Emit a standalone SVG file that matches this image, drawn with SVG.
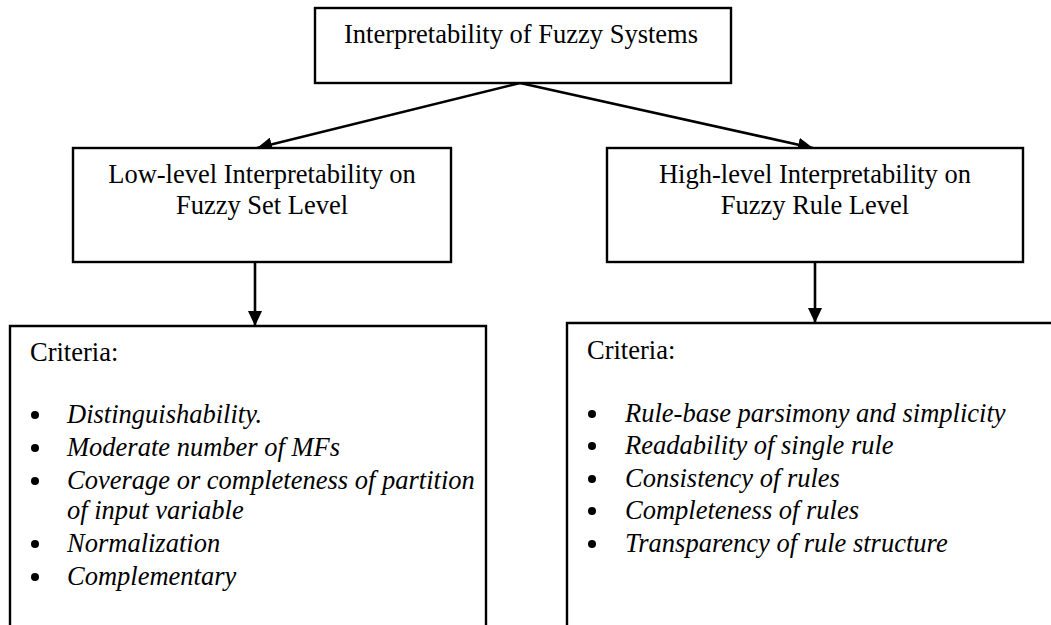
<svg xmlns="http://www.w3.org/2000/svg" width="1051" height="625" viewBox="0 0 1051 625">
  <style>
    .box { fill: #ffffff; stroke: #000000; stroke-width: 2.4; }
    .edge { fill: none; stroke: #000000; stroke-width: 2.6; }
    .t { font-family: "Liberation Serif", "Times New Roman", serif; font-size: 26.5px; fill: #000000; }
    .c { text-anchor: middle; }
    .i { font-style: italic; }
    .dot { fill: #000000; }
  </style>
  <defs>
    <marker id="arrow" viewBox="0 0 15 14" refX="15" refY="7" markerWidth="15" markerHeight="14" markerUnits="userSpaceOnUse" orient="auto">
      <path d="M0,0 L15,7 L0,14 Z" fill="#000000"/>
    </marker>
  </defs>

  <g id="connectors">
    <line class="edge" x1="520" y1="83" x2="257" y2="148" marker-end="url(#arrow)"/>
    <line class="edge" x1="520" y1="83" x2="813" y2="148" marker-end="url(#arrow)"/>
    <line class="edge" x1="255" y1="262" x2="255" y2="326" marker-end="url(#arrow)"/>
    <line class="edge" x1="815" y1="262" x2="815" y2="323" marker-end="url(#arrow)"/>
  </g>

  <g id="root">
    <rect class="box" x="315" y="8" width="416" height="75"/>
    <text class="t c" x="521" y="43">Interpretability of Fuzzy Systems</text>
  </g>

  <g id="low-level">
    <rect class="box" x="73" y="148" width="378" height="114"/>
    <text class="t c" x="262" y="183">Low-level Interpretability on</text>
    <text class="t c" x="262" y="214">Fuzzy Set Level</text>
  </g>

  <g id="high-level">
    <rect class="box" x="607" y="148" width="416" height="114"/>
    <text class="t c" x="815" y="183">High-level Interpretability on</text>
    <text class="t c" x="815" y="214">Fuzzy Rule Level</text>
  </g>

  <g id="low-criteria">
    <path class="box" d="M10,630 L10,326 L486,326 L486,630"/>
    <text class="t" x="30" y="361">Criteria:</text>
    <circle class="dot" cx="35" cy="415" r="4"/>
    <text class="t i" x="67" y="423">Distinguishability.</text>
    <circle class="dot" cx="35" cy="448" r="4"/>
    <text class="t i" x="67" y="456">Moderate number of MFs</text>
    <circle class="dot" cx="35" cy="481" r="4"/>
    <text class="t i" x="67" y="489">Coverage or completeness of partition</text>
    <text class="t i" x="67" y="519">of input variable</text>
    <circle class="dot" cx="35" cy="544" r="4"/>
    <text class="t i" x="67" y="552">Normalization</text>
    <circle class="dot" cx="35" cy="577" r="4"/>
    <text class="t i" x="67" y="585">Complementary</text>
  </g>

  <g id="high-criteria">
    <path class="box" d="M567,630 L567,323 L1060,323"/>
    <text class="t" x="587" y="359">Criteria:</text>
    <circle class="dot" cx="592" cy="414" r="4"/>
    <text class="t i" x="625" y="422">Rule-base parsimony and simplicity</text>
    <circle class="dot" cx="592" cy="446" r="4"/>
    <text class="t i" x="625" y="454">Readability of single rule</text>
    <circle class="dot" cx="592" cy="479" r="4"/>
    <text class="t i" x="625" y="487">Consistency of rules</text>
    <circle class="dot" cx="592" cy="511" r="4"/>
    <text class="t i" x="625" y="519">Completeness of rules</text>
    <circle class="dot" cx="592" cy="544" r="4"/>
    <text class="t i" x="625" y="552">Transparency of rule structure</text>
  </g>
</svg>
